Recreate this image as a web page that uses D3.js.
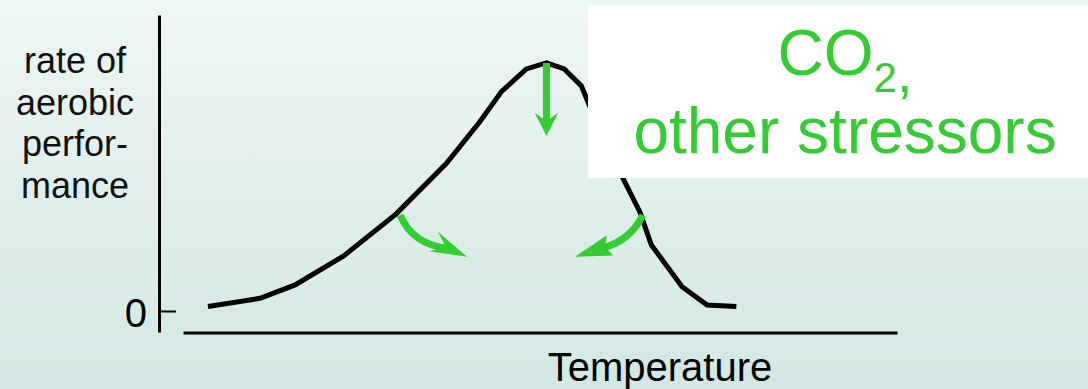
<!DOCTYPE html>
<html>
<head>
<meta charset="utf-8">
<script src="https://cdn.jsdelivr.net/npm/d3@7"></script>
<style>
  html, body { margin: 0; padding: 0; overflow: hidden; }
  svg { display: block; }
  text { font-family: "Liberation Sans", Arial, Helvetica, sans-serif; }
</style>
</head>
<body>
<svg id="chart" width="1088" height="389"></svg>
<script>
// Rate of aerobic performance across temperature (thermal performance curve)
const temperature = [3.5, 10.8, 15.7, 22.5, 29.9, 36.9, 41.6, 44.6, 48.1, 50.9, 53.4, 55.8, 58.1, 60.1, 61.6, 64.0, 65.6, 69.9, 73.4, 77.5];
const performance = [1.5, 4.3, 8.8, 18.6, 32.9, 49.9, 64.0, 74.1, 81.8, 83.8, 81.8, 76.0, 62.5, 54.4, 44.9, 33.4, 22.3, 8.2, 2.0, 1.5];

const yTickValues = [0];
const yTickLabels = ["0"];
const yTitleLines = ["rate of", "aerobic", "perfor-", "mance"];
const xTitle = "Temperature";
const stressorLines = ["CO", "2", ",", "other stressors"];

// Stressor arrows in (temperature, rate): start on the curve, bend, neck of head, tip
const arrowStart = [[50.9, 83.8], [30.4, 32.4], [64.4, 32.4]];
const arrowBend  = [[50.9, 74.0], [32.2, 22.3], [62.6, 23.6]];
const arrowNeck  = [[50.9, 64.2], [36.8, 21.6], [59.1, 21.6]];
const arrowTip   = [[50.9, 59.1], [39.8, 18.3], [54.9, 18.3]];

const W = 1088, H = 389;
const svg = d3.select("#chart");
const green = "#33cc33";

// background wash
const defs = svg.append("defs");
const grad = defs.append("linearGradient")
  .attr("id", "bg").attr("x1", 0).attr("y1", 0).attr("x2", 0).attr("y2", 1);
grad.append("stop").attr("offset", "0%").attr("stop-color", "#eef6f4");
grad.append("stop").attr("offset", "100%").attr("stop-color", "#d2e7e3");
svg.append("rect").attr("width", W).attr("height", H).attr("fill", "url(#bg)");

// scales
const x = d3.scaleLinear().domain([0, 100]).range([183, 897]);
const y = d3.scaleLinear().domain([-7.1, 100]).range([332, 15]);

// y axis with a single zero tick pointing inward
const yAxis = d3.axisLeft(y)
  .tickValues(yTickValues)
  .tickFormat((d, i) => yTickLabels[i])
  .tickSizeInner(-17)
  .tickSizeOuter(0)
  .tickPadding(12);
const gy = svg.append("g").attr("transform", "translate(159,0)").call(yAxis);
gy.select(".domain").attr("stroke", "#000").attr("stroke-width", 3);
gy.selectAll(".tick line").attr("stroke", "#000").attr("stroke-width", 2);
gy.selectAll(".tick text")
  .attr("font-size", 40).attr("font-family", "Liberation Sans, Arial, sans-serif")
  .attr("fill", "#000").attr("dy", "0.4em");

// x axis: bare baseline
const xAxis = d3.axisBottom(x).tickValues([]).tickSizeOuter(0);
const gx = svg.append("g").attr("transform", "translate(0,332.5)").call(xAxis);
gx.select(".domain").attr("stroke", "#000").attr("stroke-width", 3);

// axis titles
svg.append("text")
  .attr("x", 660).attr("y", 381)
  .attr("text-anchor", "middle")
  .attr("font-size", 40).attr("fill", "#000")
  .text(xTitle);

svg.append("g").selectAll("text")
  .data(yTitleLines)
  .join("text")
  .attr("x", 75)
  .attr("y", (d, i) => 73 + i * 41.5)
  .attr("text-anchor", "middle")
  .attr("font-size", 36).attr("fill", "#111")
  .text(d => d);

// performance curve
const pts = temperature.map((t, i) => [t, performance[i]]);
const line = d3.line().x(d => x(d[0])).y(d => y(d[1]));
svg.append("path")
  .datum(pts)
  .attr("d", line)
  .attr("fill", "none")
  .attr("stroke", "#000")
  .attr("stroke-width", 5)
  .attr("stroke-linejoin", "miter")
  .attr("stroke-linecap", "butt");

// stressor arrows
const headLen = [23.3, 37, 37];
const headHalf = [11.7, 10.7, 10.7];
const arrows = svg.append("g");
arrowStart.forEach((s, i) => {
  const p0 = [x(s[0]), y(s[1])];
  const c = [x(arrowBend[i][0]), y(arrowBend[i][1])];
  const n = [x(arrowNeck[i][0]), y(arrowNeck[i][1])];
  const tip = [x(arrowTip[i][0]), y(arrowTip[i][1])];
  let dx = tip[0] - n[0], dy = tip[1] - n[1];
  const len = Math.hypot(dx, dy);
  dx /= len; dy /= len;
  const px = -dy, py = dx;
  const nEnd = [n[0] + dx * 3, n[1] + dy * 3];
  const sp = d3.path();
  sp.moveTo(p0[0], p0[1]);
  sp.quadraticCurveTo(c[0], c[1], nEnd[0], nEnd[1]);
  arrows.append("path")
    .attr("d", sp.toString())
    .attr("fill", "none")
    .attr("stroke", green)
    .attr("stroke-width", 7)
    .attr("stroke-linecap", "butt");
  const L = headLen[i], h = headHalf[i];
  const base = [tip[0] - dx * L, tip[1] - dy * L];
  const wa = [base[0] + px * h, base[1] + py * h];
  const wb = [base[0] - px * h, base[1] - py * h];
  arrows.append("path")
    .attr("d", `M${tip[0]},${tip[1]}L${wa[0]},${wa[1]}L${n[0]},${n[1]}L${wb[0]},${wb[1]}Z`)
    .attr("fill", green);
});

// stressor label box
svg.append("rect")
  .attr("x", 588).attr("y", 5)
  .attr("width", 520).attr("height", 173)
  .attr("fill", "#fff");

const co2 = svg.append("text")
  .attr("x", 845).attr("y", 75)
  .attr("text-anchor", "middle")
  .attr("font-size", 64).attr("fill", green);
co2.append("tspan").text(stressorLines[0]);
co2.append("tspan").attr("font-size", 42).attr("dy", 17).text(stressorLines[1]);
co2.append("tspan").attr("font-size", 56).text(stressorLines[2]);

svg.append("text")
  .attr("x", 845).attr("y", 153)
  .attr("text-anchor", "middle")
  .attr("font-size", 64).attr("fill", green)
  .text(stressorLines[3]);
</script>
</body>
</html>
